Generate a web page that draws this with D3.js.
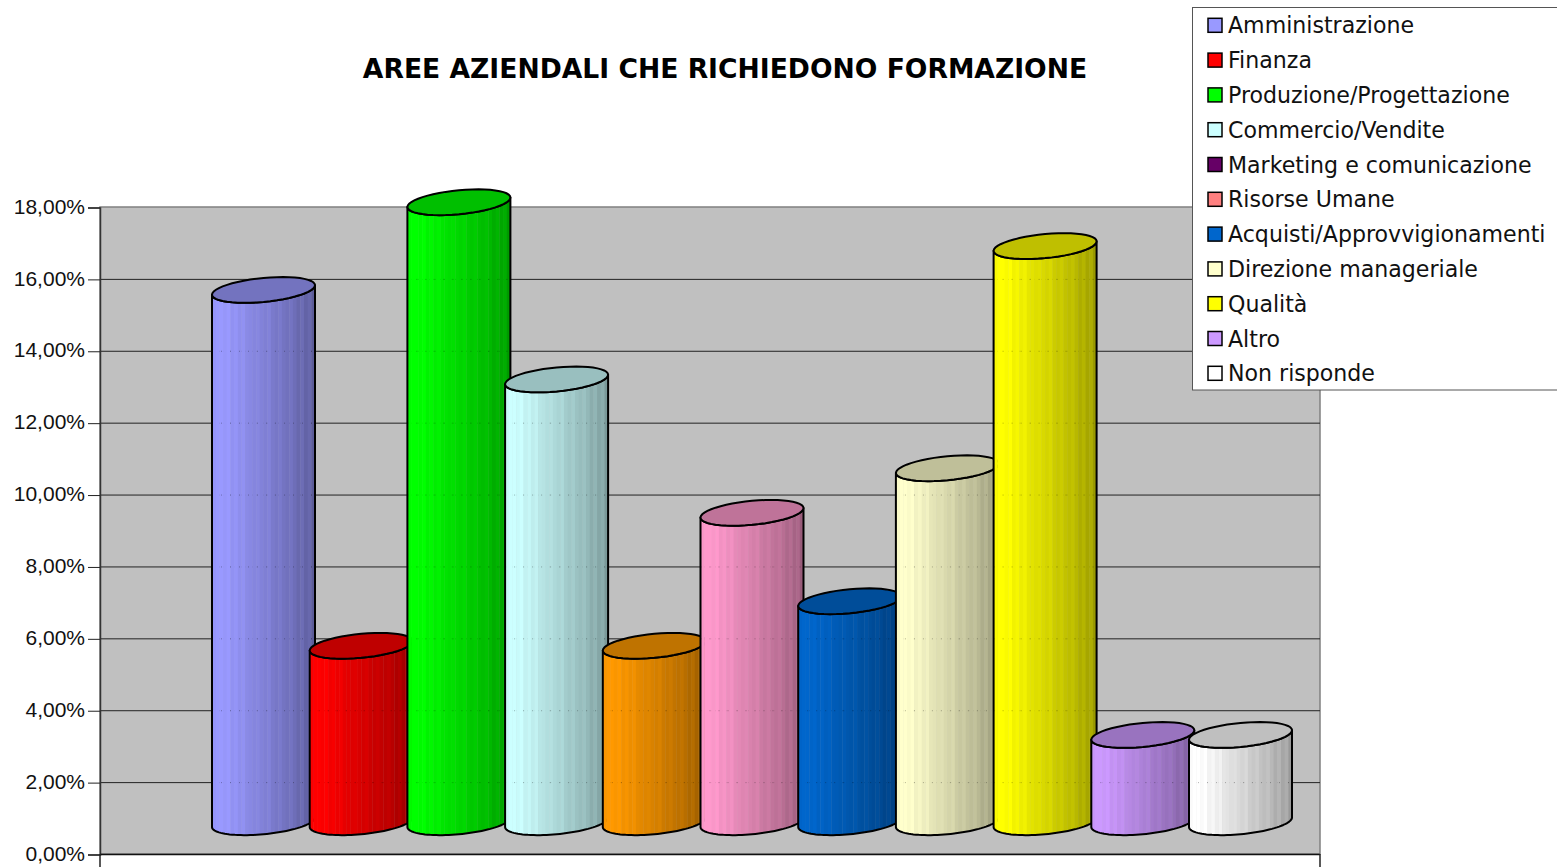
<!DOCTYPE html>
<html>
<head>
<meta charset="utf-8">
<script src="https://cdn.jsdelivr.net/npm/d3@7"></script>
<style>
html, body { margin: 0; padding: 0; background: #fff; overflow: hidden; }
</style>
</head>
<body>
<script>
// data
var categories = ["Amministrazione", "Finanza", "Produzione/Progettazione", "Commercio/Vendite",
    "Marketing e comunicazione", "Risorse Umane", "Acquisti/Approvvigionamenti",
    "Direzione manageriale", "Qualità", "Altro", "Non risponde"];
var values = [15.56, 5.66, 18.0, 13.07, 5.66, 9.36, 6.9, 10.6, 16.78, 3.18, 3.18];
// colour of each cylinder, in bar order
var barColors = ["#9999ff", "#ff0000", "#00ff00", "#ccffff", "#ff9900", "#ff99cc", "#0066cc",
    "#ffffcc", "#ffff00", "#cc99ff", "#ffffff"];
// the legend shows these, a few differ from the bars
var legendColors = ["#9999ff", "#ff0000", "#00ff00", "#ccffff", "#660066", "#ff8080", "#0066cc",
    "#ffffcc", "#ffff00", "#cc99ff", "#ffffff"];
var yTicks = [0, 2, 4, 6, 8, 10, 12, 14, 16, 18];

//parameters
var svgWidth = 1557;
var svgHeight = 867;
var plotLeft = 100;
var plotRight = 1320;
var plotTop = 207;
var plotBottom = 854;

var barsLeft = 212;
var barsRight = 1286.7;
var cylWidth = 103;
var floorLift = 27;   // front left corner of a cylinder sits this far above the axis
var shear = 9.5;      // right side is this much higher than the left
var halfMinor = 12;

// brightness across the cylinder, one entry per vertical strip
var shade = [0.98, 1.0, 1.0, 0.98, 1.0, 0.95, 0.97, 0.93, 0.95, 0.9, 0.89, 0.87, 0.88, 0.85, 0.83, 0.85,
    0.8, 0.78, 0.8, 0.76, 0.74, 0.76, 0.72, 0.68, 0.71, 0.65, 0.68, 0.6];

var svg = d3.select("body").append("svg")
    .attr("width", svgWidth)
    .attr("height", svgHeight)
    .style("display", "block");

var y = d3.scaleLinear().domain([0, 18]).range([plotBottom, plotTop]);
var x = d3.scaleBand().domain(categories).range([barsLeft, barsRight]).padding(0);

var formatTick = function (d) {
    return d3.format(".2f")(d).replace(".", ",") + "%";
};

// plot background
svg.append("rect")
    .attr("x", plotLeft)
    .attr("y", plotTop)
    .attr("width", plotRight - plotLeft)
    .attr("height", plotBottom - plotTop)
    .attr("fill", "#c0c0c0")
    .attr("stroke", "#808080")
    .attr("stroke-width", 1.5);

// grid lines
svg.append("g").selectAll("line")
    .data(yTicks.slice(1, -1))
    .join("line")
    .attr("x1", plotLeft)
    .attr("x2", plotRight)
    .attr("y1", function (d) { return y(d) + 0.5; })
    .attr("y2", function (d) { return y(d) + 0.5; })
    .attr("stroke", "#222")
    .attr("stroke-width", 1);

// axes
var yAxis = d3.axisLeft(y).tickValues(yTicks).tickFormat(formatTick).tickSize(12).tickPadding(3);
var gy = svg.append("g")
    .attr("transform", "translate(" + plotLeft + ",0.5)")
    .call(yAxis);
gy.select(".domain").attr("stroke", "#333").attr("stroke-width", 1.5);
gy.selectAll(".tick line").attr("stroke", "#222");
gy.selectAll("text")
    .attr("fill", "#111")
    .attr("dy", "0.27em")
    .style("font-family", "'Liberation Sans', Arial, sans-serif")
    .style("font-size", "21px");

svg.append("line")
    .attr("x1", plotLeft)
    .attr("x2", plotRight)
    .attr("y1", plotBottom + 0.5)
    .attr("y2", plotBottom + 0.5)
    .attr("stroke", "#111")
    .attr("stroke-width", 1.5);

[plotLeft, plotRight].forEach(function (px) {
    svg.append("line")
        .attr("x1", px)
        .attr("x2", px)
        .attr("y1", plotBottom)
        .attr("y2", svgHeight)
        .attr("stroke", "#222")
        .attr("stroke-width", 1.5);
});

// outline of an ellipse sheared upward to the right, from angle a0 to a1
var ellipsePoints = function (cx, cy, a0, a1) {
    var pts = [];
    for (var i = 0; i <= 48; i++) {
        var t = a0 + (a1 - a0) * i / 48;
        pts.push([
            cx + cylWidth / 2 * Math.cos(t),
            cy - shear / 2 * Math.cos(t) + halfMinor * Math.sin(t)
        ]);
    }
    return pts;
};

var line = d3.line();
var defs = svg.append("defs");

var addCylinder = function (cat, i) {
    var color = d3.rgb(barColors[i]);
    var left = x(cat);
    var cx = left + cylWidth / 2;
    // left tip of the top ellipse sits on y(value)
    var cyTop = y(values[i]) - shear / 2;
    var cyBottom = plotBottom - floorLift - shear / 2;

    // side of the cylinder: front half of the bottom ellipse, then back up
    var lower = ellipsePoints(cx, cyBottom, Math.PI, 0);
    var upper = ellipsePoints(cx, cyTop, 0, Math.PI);
    var sidePath = line(lower.concat(upper)) + "Z";

    var g = svg.append("g");
    var clipId = "side" + i;
    defs.append("clipPath").attr("id", clipId).append("path").attr("d", sidePath);

    var side = g.append("g").attr("clip-path", "url(#" + clipId + ")");
    var stripW = cylWidth / shade.length;
    side.selectAll("rect")
        .data(shade)
        .join("rect")
        .attr("x", function (d, k) { return left + k * stripW; })
        .attr("y", cyTop - 30)
        .attr("width", stripW + 0.4)
        .attr("height", cyBottom - cyTop + 60)
        .attr("fill", function (d) {
            return d3.rgb(color.r * d, color.g * d, color.b * d);
        });

    // grid shows faintly through the bars as dots
    side.selectAll("line")
        .data(yTicks.slice(1, -1))
        .join("line")
        .attr("x1", left)
        .attr("x2", left + cylWidth)
        .attr("y1", function (d) { return y(d) + 0.5; })
        .attr("y2", function (d) { return y(d) + 0.5; })
        .attr("stroke", "#000")
        .attr("stroke-opacity", 0.3)
        .attr("stroke-dasharray", "1 8");

    g.append("path")
        .attr("d", sidePath)
        .attr("fill", "none")
        .attr("stroke", "#000")
        .attr("stroke-width", 2)
        .attr("stroke-linejoin", "round");

    // top cap
    g.append("path")
        .attr("d", line(ellipsePoints(cx, cyTop, 0, Math.PI * 2)) + "Z")
        .attr("fill", d3.rgb(color.r * 0.75, color.g * 0.75, color.b * 0.75))
        .attr("stroke", "#000")
        .attr("stroke-width", 2);
};

categories.forEach(addCylinder);

// title
svg.append("text")
    .attr("x", 725)
    .attr("y", 78)
    .attr("text-anchor", "middle")
    .style("font-family", "'DejaVu Sans', Verdana, sans-serif")
    .style("font-weight", "bold")
    .style("font-size", "26.6px")
    .text("AREE AZIENDALI CHE RICHIEDONO FORMAZIONE");

// legend
var legendTop = 7;
var legendStep = 34.8;
svg.append("rect")
    .attr("x", 1192.5)
    .attr("y", legendTop + 0.5)
    .attr("width", 380)
    .attr("height", 382.5)
    .attr("fill", "#fff")
    .attr("stroke", "#555")
    .attr("stroke-width", 1);

var legend = svg.append("g").selectAll("g")
    .data(categories)
    .join("g")
    .attr("transform", function (d, i) { return "translate(0," + (25.3 + i * legendStep) + ")"; });

legend.append("rect")
    .attr("x", 1208)
    .attr("y", -7)
    .attr("width", 14)
    .attr("height", 14)
    .attr("fill", function (d, i) { return legendColors[i]; })
    .attr("stroke", "#000")
    .attr("stroke-width", 1.5);

legend.append("text")
    .attr("x", 1228)
    .attr("y", 8)
    .attr("fill", "#111")
    .style("font-family", "'DejaVu Sans', Verdana, sans-serif")
    .style("font-size", "22.1px")
    .text(function (d) { return d; });
</script>
</body>
</html>
